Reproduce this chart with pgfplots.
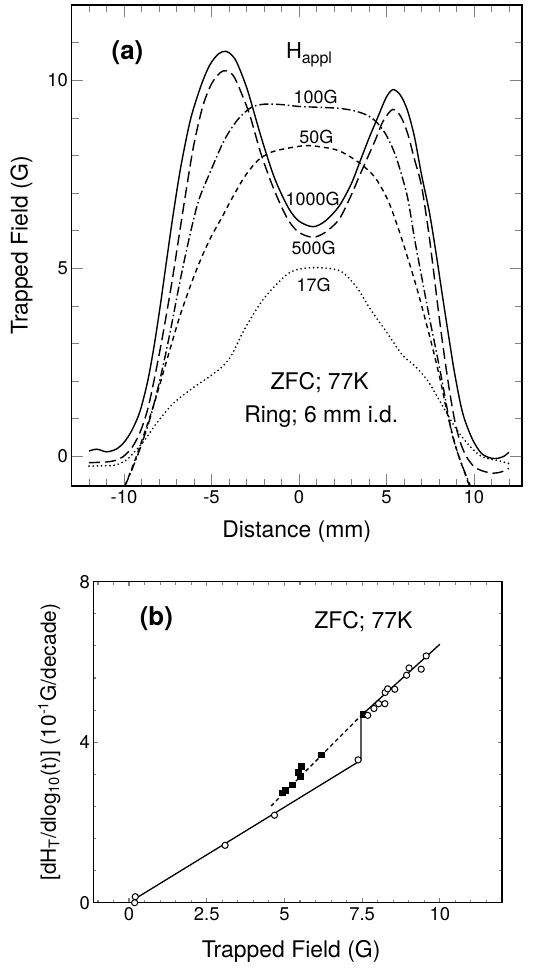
\documentclass[border=0pt]{standalone}
\usepackage{fontspec}
\setmainfont{TeX Gyre Heros}
\usepackage{pgfplots}
\pgfplotsset{compat=1.18}
\pgfplotsset{
  myax/.style={
    scale only axis, anchor=south west,
    axis line style={line width=1.5bp},
    /pgf/number format/assume math mode=true,
    tick label style={font=\fontsize{18.5}{18.5}\selectfont},
    label style={font=\fontsize{23}{23}\selectfont},
  },
  curve/.style={black, line width=1.4bp, smooth, tension=0.5},
}
\begin{document}
\begin{tikzpicture}
\path[use as bounding box] (0,0) rectangle (548bp,-968bp);
% ---------------- panel (a)
\begin{axis}[myax, at={(71.5bp,-486bp)}, width=450.5bp, height=481bp,
  xmin=-13, xmax=12.75, ymin=-0.8, ymax=12,
  xtick={-10,-5,0,5,10},
  minor xtick={-12,-11,-9,-8,-7,-6,-4,-3,-2,-1,1,2,3,4,6,7,8,9,11,12},
  ytick={0,5,10}, minor ytick={1,2,3,4,6,7,8,9,11},
  tickwidth=12pt, subtickwidth=7.5pt,
  xticklabel style={yshift=-1bp},
  xlabel={Distance (mm)}, ylabel={Trapped Field (G)},
  xlabel style={at={(axis description cs:0.5,-0.095)}, anchor=center},
  ylabel style={at={(axis description cs:-0.111,0.5)}, anchor=center},
]
% 1000G solid
\addplot[curve] coordinates {(-12,0.13) (-11.55,0.18) (-11,0.11) (-10.45,0.18) (-10,0.36) (-9.55,0.68) (-9.09,1.18) (-8.64,2.0) (-8.27,2.95) (-7.91,4.05) (-7.55,5.25) (-7.18,6.45) (-6.75,7.7) (-6.2,8.95) (-5.6,9.85) (-5.1,10.4) (-4.6,10.7) (-4.17,10.77) (-3.8,10.65) (-3.5,10.42) (-2.93,9.72) (-2.17,8.5) (-1.4,7.4) (-0.6,6.6) (0,6.25) (0.8,6.1) (1.5,6.25) (2.3,6.65) (3,7.25) (3.5,7.85) (4,8.45) (4.54,9.05) (5,9.55) (5.38,9.75) (5.8,9.6) (6.2,9.2) (6.6,8.5) (7.0,7.5) (7.45,6.5) (7.82,5.45) (8.18,4.33) (8.55,3.21) (8.91,2.17) (9.36,1.14) (9.91,0.45) (10.45,0.06) (11,-0.06) (11.4,-0.06) (11.75,0.0) (12,0.1)};
% 500G long dash
\addplot[curve, dash pattern=on 11bp off 5bp] coordinates {(-12,-0.18) (-11,-0.16) (-10.5,-0.12) (-10.05,-0.02) (-9.55,0.22) (-9.09,0.62) (-8.64,1.25) (-8.2,2.2) (-7.75,3.3) (-7.27,4.6) (-6.82,5.95) (-6.4,7.2) (-6.0,8.3) (-5.5,9.3) (-5.0,9.9) (-4.5,10.2) (-4.17,10.25) (-3.8,10.15) (-3.5,9.89) (-2.83,9.1) (-2.17,8.04) (-1.4,7.06) (-0.64,6.3) (0,5.95) (0.8,5.82) (1.5,5.95) (2.3,6.3) (3,6.95) (3.42,7.41) (4.35,8.39) (4.8,8.9) (5.35,9.22) (5.8,9.05) (6.2,8.6) (6.6,7.9) (7.0,7.2) (7.4,6.0) (7.7,4.9) (8.0,3.75) (8.3,2.7) (8.6,1.75) (8.9,0.95) (9.2,0.4) (9.55,0.0) (10,-0.28) (10.5,-0.4) (11.1,-0.46) (11.6,-0.42) (12,-0.33)};
% 100G dash-dot
\addplot[curve, dash pattern=on 9bp off 3bp on 1.5bp off 3bp] coordinates {(-9.95,-0.8) (-9.55,-0.37) (-9.0,0.3) (-8.45,1.1) (-7.91,2.1) (-7.36,3.3) (-6.82,4.6) (-6.27,5.8) (-5.73,6.8) (-5.03,7.6) (-4.27,8.4) (-3.5,8.95) (-2.74,9.27) (-2,9.36) (-1,9.35) (0,9.3) (1,9.28) (2.3,9.25) (3.2,9.18) (3.98,9.05) (4.5,8.85) (4.91,8.6) (5.3,8.25) (5.66,7.8) (6.2,6.9) (6.6,5.8) (7.0,4.8) (7.45,3.7) (7.82,2.85) (8.18,2.0) (8.45,1.31) (8.73,0.62) (9.18,-0.07) (9.8,-0.8)};
% 50G short dash
\addplot[curve, dash pattern=on 5bp off 4bp] coordinates {(-9.95,-0.8) (-9.4,-0.15) (-8.91,0.5) (-8.27,1.4) (-7.55,2.55) (-6.82,3.7) (-6.09,4.67) (-5.55,5.3) (-5.0,5.85) (-4.4,6.35) (-3.89,6.8) (-3.12,7.42) (-2.36,7.86) (-1.6,8.08) (-0.64,8.19) (0.43,8.26) (1.3,8.22) (2.3,8.12) (3.42,7.81) (4.35,7.41) (5.1,6.79) (5.66,6.08) (6.2,5.3) (6.82,4.33) (7.55,3.04) (8.09,2.0) (8.45,1.2) (9.0,0.19) (9.75,-0.8)};
% 17G dotted
\addplot[curve, line width=1.9bp, line cap=round, dash pattern=on 0bp off 4.2bp] coordinates {(-12,-0.27) (-11,-0.26) (-10.45,-0.24) (-9.9,-0.12) (-9.55,0.03) (-8.82,0.42) (-8.09,0.9) (-7.18,1.4) (-6.09,1.8) (-5.09,2.12) (-4.37,2.38) (-3.83,2.7) (-3.1,3.38) (-2.02,4.18) (-0.76,4.8) (0,4.97) (1.1,5.01) (2.37,4.92) (3.28,4.5) (4.09,3.9) (5.0,3.3) (5.91,2.69) (6.64,2.39) (7.36,2.0) (7.91,1.57) (8.45,1.14) (9.0,0.71) (9.73,0.28) (10.45,-0.02) (11.36,-0.12) (12,-0.2)};
\node[font=\fontsize{26}{26}\selectfont\bfseries] at (axis cs:-9.8,10.73) {(a)};
\node[font=\fontsize{22}{22}\selectfont, anchor=base west, inner sep=0pt] at (axis cs:-0.75,10.57) {H\raisebox{-0.45ex}{\fontsize{16}{16}\selectfont appl}};
\node[font=\fontsize{18}{18}\selectfont] at (axis cs:0.95,9.55) {100G};
\node[font=\fontsize{18}{18}\selectfont] at (axis cs:1.0,8.49) {50G};
\node[font=\fontsize{18}{18}\selectfont] at (axis cs:0.78,6.84) {1000G};
\node[font=\fontsize{18}{18}\selectfont] at (axis cs:0.84,5.54) {500G};
\node[font=\fontsize{18}{18}\selectfont] at (axis cs:0.84,4.54) {17G};
\node[font=\fontsize{23}{23}\selectfont] at (axis cs:1.19,1.94) {ZFC; 77K};
\node[font=\fontsize{23}{23}\selectfont] at (axis cs:1.28,1.05) {Ring; 6 mm i.d.};
\end{axis}
% ---------------- panel (b)
\begin{axis}[myax, at={(93.3bp,-902.7bp)}, width=408.7bp, height=321bp,
  xmin=-1.15, xmax=12, ymin=0, ymax=8,
  xtick={0,2.5,5,7.5,10}, xticklabels={0,2.5,5,7.5,10},
  minor xtick={-1,-0.5,0.5,1,1.5,2,3,3.5,4,4.5,5.5,6,6.5,7,8,8.5,9,9.5,10.5,11,11.5},
  ytick={0,4,8}, minor ytick={0.8,1.6,2.4,3.2,4.8,5.6,6.4,7.2},
  every tick/.append style={line width=1.1pt},
  xticklabel style={yshift=-1bp},
  xlabel={Trapped Field (G)},
  ylabel={[dH\textsubscript{T}/dlog\textsubscript{10}(t)] (10\textsuperscript{-1}G/decade)},
  xlabel style={at={(axis description cs:0.484,-0.153)}, anchor=center},
  ylabel style={at={(axis description cs:-0.108,0.5)}, anchor=center, font=\fontsize{21}{21}\selectfont},
]
\addplot[black, line width=1.3bp] coordinates {(0.2,0.1) (7.46,3.55) (7.46,4.66) (10,6.44)};
\addplot[black, line width=1.3bp, dash pattern=on 4bp off 3bp] coordinates {(4.57,2.41) (7.46,4.66)};
\addplot[only marks, mark=square*, mark size=2.9bp, black] coordinates {(4.93,2.74) (5.03,2.80) (5.25,2.94) (5.44,3.26) (5.51,3.15) (5.55,3.41) (6.18,3.69) (7.52,4.69)};
\addplot[only marks, mark=*, mark size=3.1bp, mark options={fill=white, draw=black, line width=1bp}, clip=false] coordinates {(0.18,0.0) (0.2,0.15) (3.09,1.43) (4.68,2.18) (7.37,3.56) (7.68,4.67) (7.88,4.84) (8.03,4.96) (8.23,4.96) (8.24,5.24) (8.32,5.33) (8.55,5.32) (8.93,5.67) (9.01,5.85) (9.40,5.82) (9.56,6.15)};
\node[font=\fontsize{26}{26}\selectfont\bfseries] at (axis cs:0.88,7.07) {(b)};
\node[font=\fontsize{23}{23}\selectfont] at (axis cs:7.54,7.0) {ZFC; 77K};
\end{axis}
\end{tikzpicture}
\end{document}
